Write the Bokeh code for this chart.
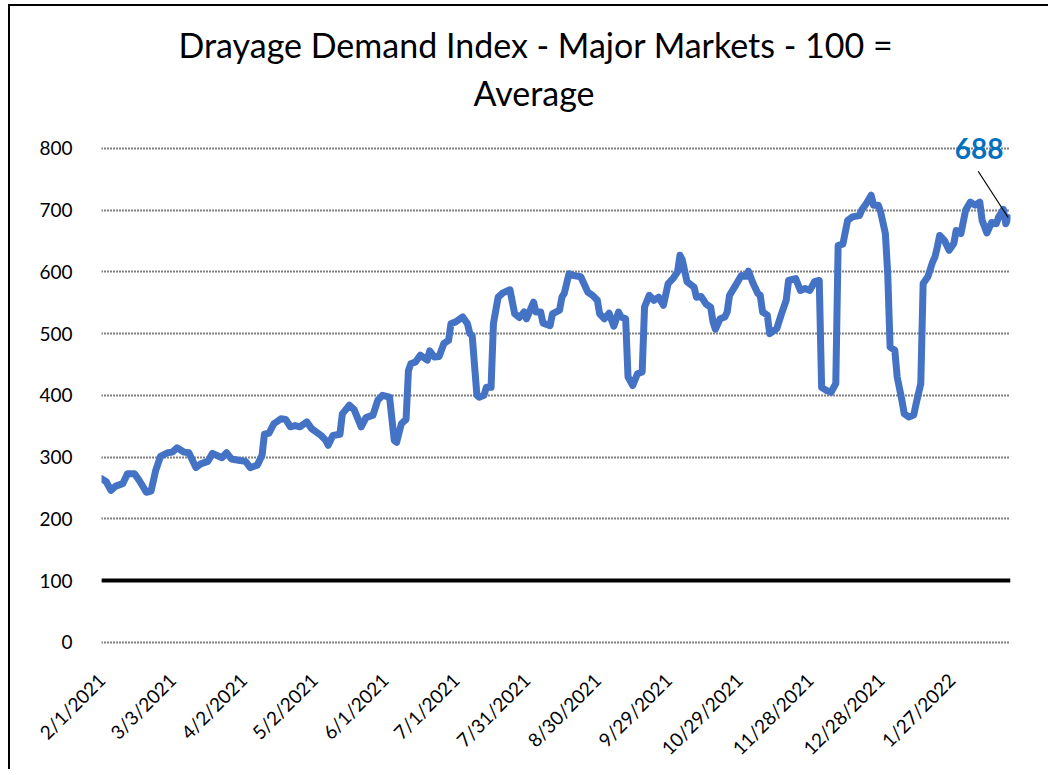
import math
from bokeh.plotting import figure
from bokeh.models import FixedTicker, Span, Label, ColumnDataSource, Title
from bokeh.embed import file_html
from bokeh.resources import INLINE

# Days since 2/1/2021 and index values (100 = average)
days = [0, 2, 4, 6, 9, 11, 14, 16, 19, 21, 23, 25, 28, 30, 32, 35, 37, 40, 42, 45,
        47, 51, 53, 55, 58, 61, 63, 66, 68, 69, 71, 73, 76, 78, 80, 82, 84, 87, 89, 93,
        95, 96, 98, 101, 102, 105, 107, 110, 112, 115, 117, 119, 122, 124, 125, 127, 129, 130, 131, 133,
        135, 138, 139, 141, 143, 145, 147, 148, 150, 153, 155, 156, 157, 159, 160, 162, 163, 165, 166, 168,
        170, 173, 175, 177, 179, 180, 183, 184, 186, 187, 190, 191, 194, 195, 196, 198, 200, 203, 206, 208,
        210, 211, 213, 215, 217, 219, 220, 222, 223, 225, 227, 229, 230, 232, 234, 236, 238, 240, 242, 244,
        245, 246, 248, 251, 252, 254, 256, 258, 259, 260, 262, 264, 265, 266, 269, 271, 273, 274, 276, 278,
        279, 280, 282, 283, 286, 288, 290, 291, 294, 296, 298, 300, 302, 304, 305, 307, 309, 311, 312, 314,
        316, 318, 321, 322, 324, 326, 327, 329, 330, 332, 333, 334, 336, 337, 339, 340, 342, 344, 345, 347,
        348, 350, 352, 353, 354, 355, 357, 359, 361, 362, 364, 366, 368, 370, 372, 373, 375, 377, 379, 380,
        382, 383, 384]
values = [265, 260, 246, 253, 257, 273, 273, 262, 243, 245, 279, 301, 307, 308, 315, 308, 307, 283, 289, 293,
          306, 299, 307, 297, 295, 293, 283, 287, 303, 337, 339, 354, 362, 361, 349, 351, 349, 357, 346, 335,
          327, 319, 335, 337, 370, 384, 377, 349, 364, 368, 392, 400, 397, 327, 324, 354, 361, 440, 451, 454,
          465, 457, 472, 462, 463, 484, 489, 516, 519, 527, 516, 500, 497, 400, 397, 400, 413, 413, 516, 559,
          566, 571, 532, 526, 535, 524, 551, 535, 535, 517, 513, 532, 538, 559, 565, 597, 594, 592, 567, 562,
          554, 532, 524, 533, 512, 535, 527, 524, 430, 416, 435, 438, 543, 562, 554, 559, 546, 581, 589, 600,
          627, 619, 584, 575, 559, 560, 548, 543, 519, 507, 524, 527, 535, 562, 581, 594, 593, 601, 581, 565,
          562, 535, 530, 500, 508, 532, 554, 586, 589, 570, 573, 570, 584, 586, 413, 408, 405, 419, 643, 645,
          683, 689, 691, 700, 711, 724, 708, 708, 697, 662, 597, 478, 473, 430, 392, 370, 365, 368, 386, 419,
          581, 592, 616, 624, 640, 659, 651, 635, 646, 667, 662, 700, 713, 708, 713, 683, 663, 680, 678, 689,
          701, 678, 688]

average_level = 100
tick_days = [0, 30, 60, 90, 120, 150, 180, 210, 240, 270, 300, 330, 360]
tick_labels = ["2/1/2021", "3/3/2021", "4/2/2021", "5/2/2021", "6/1/2021", "7/1/2021",
               "7/31/2021", "8/30/2021", "9/29/2021", "10/29/2021", "11/28/2021",
               "12/28/2021", "1/27/2022"]
y_ticks = [0, 100, 200, 300, 400, 500, 600, 700, 800]
title_lines = ["Drayage Demand Index - Major Markets - 100 =", "Average"]

FONT = "Lato"

p = figure(width=1040, height=765, output_backend="svg", toolbar_location=None,
           x_range=(0, 385), y_range=(-10, 850), title=None,
           min_border_left=91, min_border_right=40, min_border_top=111, min_border_bottom=123,
           background_fill_color="white", border_fill_color="white")
p.styles = {"border-top": "2px solid black", "border-left": "2px solid black",
            "margin-left": "8px", "margin-top": "4px"}
p.outline_line_color = None

# second line (nearest the plot) first, then the first line above it
p.add_layout(Title(text=title_lines[1], align="left", offset=372, text_font=FONT,
                   text_font_size="34px", text_font_style="normal", text_color="black",
                   standoff=10), "above")
p.add_layout(Title(text=title_lines[0], align="left", offset=77, text_font=FONT,
                   text_font_size="34px", text_font_style="normal", text_color="black",
                   standoff=0), "above")

p.xgrid.visible = False
p.ygrid.ticker = FixedTicker(ticks=y_ticks)
p.ygrid.grid_line_color = "black"
p.ygrid.grid_line_dash = "1 2"
p.ygrid.grid_line_width = 2

p.yaxis.ticker = FixedTicker(ticks=y_ticks)
p.yaxis.axis_line_color = None
p.yaxis.major_tick_line_color = None
p.yaxis.minor_tick_line_color = None
p.yaxis.major_label_standoff = 23
p.yaxis.major_label_text_font = FONT
p.yaxis.major_label_text_font_size = "19px"
p.yaxis.major_label_text_color = "black"

p.xaxis.ticker = FixedTicker(ticks=tick_days)
p.xaxis.major_label_overrides = {d: lab for d, lab in zip(tick_days, tick_labels)}
p.xaxis.major_label_orientation = math.pi / 4
p.xaxis.axis_line_color = None
p.xaxis.major_tick_line_color = None
p.xaxis.minor_tick_line_color = None
p.xaxis.major_label_standoff = 22
p.xaxis.major_label_text_font = FONT
p.xaxis.major_label_text_font_size = "19px"
p.xaxis.major_label_text_color = "black"

p.add_layout(Span(location=average_level, dimension="width", line_color="black", line_width=4))

src = ColumnDataSource(dict(x=days, y=values))
p.line("x", "y", source=src, line_color="#4472C4", line_width=7, line_join="round", line_cap="round")

# last-value callout
lx, ly = days[-1], values[-1]
p.segment(x0=[lx - 12.7], y0=[ly + 75], x1=[lx], y1=[ly], line_color="black", line_width=1.2)
p.add_layout(Label(x=lx - 12.3, y=800, text=str(ly), text_align="center", text_baseline="middle",
                   text_font=FONT, text_font_size="28px", text_font_style="bold",
                   text_color="#0070C0"))

open("out.html", "w").write(file_html(p, INLINE))
